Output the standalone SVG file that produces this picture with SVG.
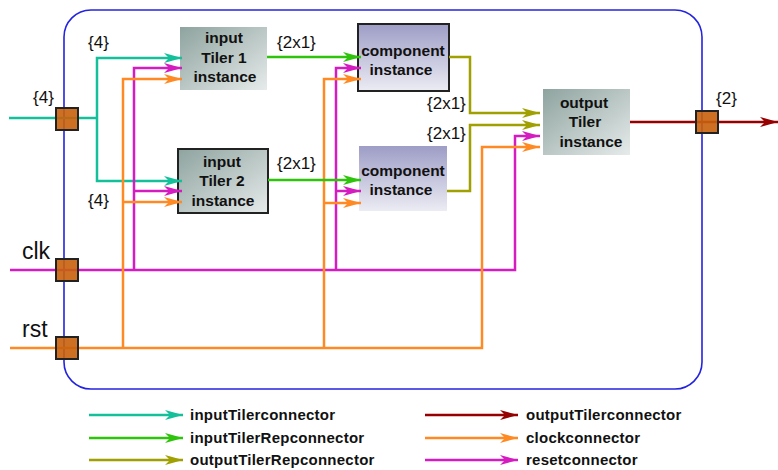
<svg xmlns="http://www.w3.org/2000/svg" width="778" height="470" viewBox="0 0 778 470">
<style>
.lbl{font-family:"Liberation Sans",Arial,sans-serif;font-size:17px;fill:#111}
.sig{font-family:"Liberation Sans",Arial,sans-serif;font-size:23px;fill:#111}
.nt{font-family:"Liberation Sans",Arial,sans-serif;font-size:15.5px;font-weight:bold;fill:#111;text-anchor:middle}
.lg{font-family:"Liberation Sans",Arial,sans-serif;font-size:15px;font-weight:bold;fill:#111;letter-spacing:0.25px}
.c{fill:none;stroke-width:2.5}
.teal{stroke:#14c09a}.green{stroke:#2ec40c}.olive{stroke:#a0a000}.mag{stroke:#d41cc0}.org{stroke:#ff8a24}.red{stroke:#960000}
.port{fill:#c8600c;fill-opacity:0.9;stroke:#222;stroke-width:2}
</style>
<defs>
<linearGradient id="gT" x1="0" y1="0" x2="1" y2="1"><stop offset="0" stop-color="#8ea39f"/><stop offset="1" stop-color="#e6ebea"/></linearGradient>
<linearGradient id="gC" x1="0" y1="0" x2="0" y2="1"><stop offset="0" stop-color="#9d9dc6"/><stop offset="1" stop-color="#ececf4"/></linearGradient>
<marker id="aTeal" markerUnits="userSpaceOnUse" markerWidth="18" markerHeight="10" refX="18" refY="5" orient="auto"><path d="M0,0 L18,5 L0,10 L5,5 z" fill="#14c09a"/></marker>
<marker id="aGreen" markerUnits="userSpaceOnUse" markerWidth="18" markerHeight="10" refX="18" refY="5" orient="auto"><path d="M0,0 L18,5 L0,10 L5,5 z" fill="#2ec40c"/></marker>
<marker id="aOlive" markerUnits="userSpaceOnUse" markerWidth="18" markerHeight="10" refX="18" refY="5" orient="auto"><path d="M0,0 L18,5 L0,10 L5,5 z" fill="#a0a000"/></marker>
<marker id="aMag" markerUnits="userSpaceOnUse" markerWidth="18" markerHeight="10" refX="18" refY="5" orient="auto"><path d="M0,0 L18,5 L0,10 L5,5 z" fill="#d41cc0"/></marker>
<marker id="aOrg" markerUnits="userSpaceOnUse" markerWidth="18" markerHeight="10" refX="18" refY="5" orient="auto"><path d="M0,0 L18,5 L0,10 L5,5 z" fill="#ff8a24"/></marker>
<marker id="aRed" markerUnits="userSpaceOnUse" markerWidth="18" markerHeight="10" refX="18" refY="5" orient="auto"><path d="M0,0 L18,5 L0,10 L5,5 z" fill="#960000"/></marker>
</defs>
<rect width="778" height="470" fill="#fff"/>
<g id="container"><rect x="64" y="10" width="638" height="379" rx="27" fill="none" stroke="#2424e0" stroke-width="1.6"/></g>

<g id="nodes">
<g id="inputTiler1"><rect x="180" y="27" width="87" height="63" fill="url(#gT)"/>
<text class="nt" x="224" y="43">input</text><text class="nt" x="224" y="63">Tiler 1</text><text class="nt" x="225" y="82">instance</text></g>
<g id="inputTiler2"><rect x="178" y="149" width="90" height="64" fill="url(#gT)" stroke="#222" stroke-width="2"/>
<text class="nt" x="222" y="167">input</text><text class="nt" x="222" y="186">Tiler 2</text><text class="nt" x="223" y="206">instance</text></g>
<g id="component1"><rect x="358" y="24" width="91" height="67" fill="url(#gC)" stroke="#222" stroke-width="2"/>
<text class="nt" x="403" y="56">component</text><text class="nt" x="401" y="75">instance</text></g>
<g id="component2"><rect x="359" y="146" width="88" height="65" fill="url(#gC)"/>
<text class="nt" x="403" y="176">component</text><text class="nt" x="401" y="195">instance</text></g>
<g id="outputTiler"><rect x="543" y="89" width="87" height="66" fill="url(#gT)"/>
<text class="nt" x="584" y="108">output</text><text class="nt" x="585" y="127">Tiler</text><text class="nt" x="591" y="147">instance</text></g>
</g>

<g id="connectors">
<path class="c teal" d="M9,118 H97"/>
<path class="c teal" d="M97,118 V58 H182" marker-end="url(#aTeal)"/>
<path class="c teal" d="M97,118 V181 H182" marker-end="url(#aTeal)"/>
<path class="c mag" d="M10,270 H515 V136 H540" marker-end="url(#aMag)"/>
<path class="c mag" d="M134,270 V68 H182" marker-end="url(#aMag)"/>
<path class="c mag" d="M134,191 H182" marker-end="url(#aMag)"/>
<path class="c mag" d="M336,270 V68 H361" marker-end="url(#aMag)"/>
<path class="c mag" d="M336,191 H361" marker-end="url(#aMag)"/>
<path class="c org" d="M10,348 H482 V147 H540" marker-end="url(#aOrg)"/>
<path class="c org" d="M123,348 V79 H182" marker-end="url(#aOrg)"/>
<path class="c org" d="M123,202 H182" marker-end="url(#aOrg)"/>
<path class="c org" d="M324,348 V79 H361" marker-end="url(#aOrg)"/>
<path class="c org" d="M324,203 H361" marker-end="url(#aOrg)"/>
<path class="c green" d="M267,57 H361" marker-end="url(#aGreen)"/>
<path class="c green" d="M268,180 H361" marker-end="url(#aGreen)"/>
<path class="c olive" d="M449,57 H470 V113 H540" marker-end="url(#aOlive)"/>
<path class="c olive" d="M447,191 H470 V125 H540" marker-end="url(#aOlive)"/>
<path class="c red" d="M630,122 H778" marker-end="url(#aRed)"/>
</g>

<g id="ports">
<rect class="port" x="56" y="108" width="22" height="22"/>
<rect class="port" x="56" y="259" width="22" height="22"/>
<rect class="port" x="56" y="337" width="22" height="22"/>
<rect class="port" x="696" y="111" width="22" height="22"/>
</g>

<g id="labels">
<text class="lbl" x="33" y="103">{4}</text>
<text class="lbl" x="88" y="48">{4}</text>
<text class="lbl" x="88" y="206">{4}</text>
<text class="lbl" x="277" y="48">{2x1}</text>
<text class="lbl" x="277" y="169">{2x1}</text>
<text class="lbl" x="427" y="109">{2x1}</text>
<text class="lbl" x="427" y="139">{2x1}</text>
<text class="lbl" x="716" y="104">{2}</text>
<text class="sig" x="22" y="259">clk</text>
<text class="sig" x="22" y="337">rst</text>
</g>

<g id="legend">
<path class="c teal" d="M89,415 H183" marker-end="url(#aTeal)"/>
<path class="c green" d="M89,438 H183" marker-end="url(#aGreen)"/>
<path class="c olive" d="M89,460 H183" marker-end="url(#aOlive)"/>
<path class="c red" d="M425,415 H518" marker-end="url(#aRed)"/>
<path class="c org" d="M425,438 H518" marker-end="url(#aOrg)"/>
<path class="c mag" d="M425,460 H518" marker-end="url(#aMag)"/>
<text class="lg" x="190" y="420">inputTilerconnector</text>
<text class="lg" x="190" y="443">inputTilerRepconnector</text>
<text class="lg" x="190" y="465">outputTilerRepconnector</text>
<text class="lg" x="526" y="420">outputTilerconnector</text>
<text class="lg" x="526" y="443">clockconnector</text>
<text class="lg" x="526" y="465">resetconnector</text>
</g>
</svg>
